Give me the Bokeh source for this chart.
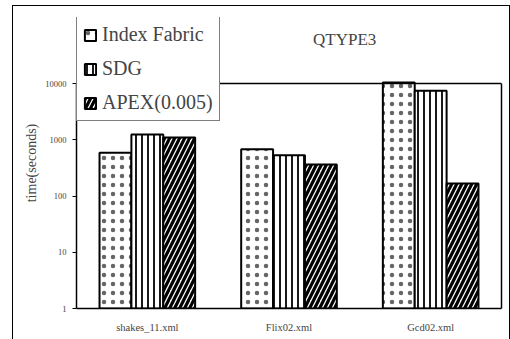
from bokeh.plotting import figure
from bokeh.models import (ColumnDataSource, Range1d, FactorRange, Legend, LegendItem, FixedTicker,
                          LogAxis, Span, Label)
from bokeh.transform import dodge
from bokeh.embed import file_html
from bokeh.resources import INLINE

files = ["shakes_11.xml", "Flix02.xml", "Gcd02.xml"]
index_fabric = [590, 680, 10500]
sdg = [1250, 530, 7500]
apex = [1100, 363, 168]
series_names = ["Index Fabric", "SDG", "APEX(0.005)"]
y_ticks = [1, 10, 100, 1000, 10000]
title_text = "QTYPE3"

src = ColumnDataSource(dict(files=files, ifab=index_fabric, sdg=sdg, apex=apex))

p = figure(x_range=FactorRange(*files), y_range=Range1d(1, 150000), y_axis_type="log",
           width=510, height=339, output_backend="svg", toolbar_location=None,
           min_border_left=76, min_border_right=9, min_border_top=17, min_border_bottom=31)

# outer chart frame drawn as CSS background lines behind a transparent border area
p.border_fill_color = None
p.styles = {
    "background-color": "white",
    "background-image": "linear-gradient(black, black), linear-gradient(black, black), linear-gradient(black, black)",
    "background-size": "1px 334px, 498px 1px, 1px 334px",
    "background-position": "12px 5px, 12px 5px, 509px 5px",
    "background-repeat": "no-repeat",
}

FONT = "'Liberation Serif', 'DejaVu Serif', serif"

w = 0.225
common = dict(source=src, width=w, bottom=1, fill_color="white", line_color="black", line_width=2,
              hatch_color="black")
r1 = p.vbar(x=dodge("files", -w, range=p.x_range), top="ifab", hatch_pattern="dot",
            hatch_scale=9, hatch_weight=0.3, hatch_alpha=0.6, **common)
r2 = p.vbar(x=dodge("files", 0, range=p.x_range), top="sdg", hatch_pattern="vertical_line",
            hatch_scale=6, hatch_weight=1.8, **common)
r3 = p.vbar(x=dodge("files", w, range=p.x_range), top="apex", hatch_pattern="right_diagonal_line",
            hatch_scale=10, hatch_weight=3.2, **common)

p.xgrid.grid_line_color = None
p.ygrid.grid_line_color = None
p.outline_line_color = None
p.background_fill_color = "white"

# plot-area box: top line at the axis maximum, right edge as an empty axis
p.add_layout(Span(location=y_ticks[-1], dimension="width", line_color="black", line_width=1.5))
p.add_layout(LogAxis(ticker=FixedTicker(ticks=[]), bounds=(y_ticks[0], y_ticks[-1]),
                     major_label_text_font_size="0px", major_tick_line_color=None,
                     major_tick_out=0, major_tick_in=0, major_label_standoff=0,
                     minor_tick_line_color=None, minor_tick_out=0, minor_tick_in=0,
                     axis_line_width=1.5), "right")

ya = p.yaxis[0]
ya.bounds = (y_ticks[0], y_ticks[-1])
ya.ticker = FixedTicker(ticks=y_ticks)
ya.major_label_overrides = {t: str(t) for t in y_ticks}
ya.minor_tick_line_color = None
ya.major_tick_out = 4
ya.major_tick_in = 0
ya.axis_line_width = 1.5
ya.major_label_text_font = FONT
ya.major_label_text_font_size = "8.5px"
ya.major_label_standoff = 6
ya.axis_label = "time(seconds)"
ya.axis_label_text_font = FONT
ya.axis_label_text_font_size = "14px"
ya.axis_label_text_font_style = "normal"
ya.axis_label_standoff = 3

p.xaxis.major_tick_line_color = None
p.xaxis.major_tick_out = 0
p.xaxis.axis_line_width = 1.5
p.xaxis.major_label_text_font = FONT
p.xaxis.major_label_text_font_size = "10.5px"
p.xaxis.major_label_standoff = 13

p.add_layout(Label(x=1.67, y=10 ** 4.78, text=title_text, text_font=FONT,
                   text_font_size="17px", text_baseline="middle", text_align="left"))

legend = Legend(items=[LegendItem(label=series_names[0], renderers=[r1]),
                       LegendItem(label=series_names[1], renderers=[r2]),
                       LegendItem(label=series_names[2], renderers=[r3])],
                location=(0, 187), orientation="vertical")
legend.label_text_font = FONT
legend.label_text_font_size = "20px"
legend.label_height = 22
legend.glyph_width = 14
legend.glyph_height = 14
legend.label_standoff = 5
legend.spacing = 11
legend.padding = 6
legend.margin = 0
legend.border_line_color = "black"
legend.border_line_width = 1
legend.background_fill_alpha = 1
p.add_layout(legend, "center")

open("out.html", "w").write(file_html(p, INLINE))
